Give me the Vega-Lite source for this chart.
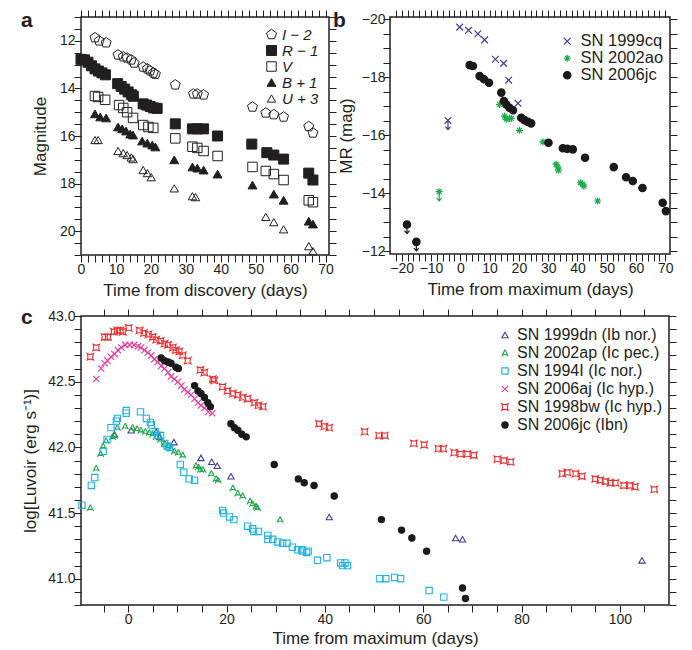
{
  "$schema": "https://vega.github.io/schema/vega-lite/v6.json",
  "background": "white",
  "padding": {"left": 20, "top": 8, "right": 5, "bottom": 2},
  "config": {
    "font": "Liberation Sans",
    "view": {"stroke": "#231f20", "strokeWidth": 1.5},
    "axis": {"domain": false, "grid": false, "labelFontSize": 14, "labelColor": "#231f20", "titleFontSize": 17, "titleFontWeight": "normal", "titleColor": "#231f20", "tickColor": "#231f20", "tickWidth": 1, "tickSize": 7, "labelFlush": false, "labelOverlap": false, "labelBound": false},
    "legend": {"padding": 0, "labelColor": "#231f20"}
  },
  "datasets": {
    "a": [
      {"band": "I − 2", "t": 4, "m": 11.87}, {"band": "I − 2", "t": 5.2, "m": 12.0}, {"band": "I − 2", "t": 7.2, "m": 12.08},
      {"band": "I − 2", "t": 10.6, "m": 12.59}, {"band": "I − 2", "t": 12.1, "m": 12.67}, {"band": "I − 2", "t": 13.2, "m": 12.72}, {"band": "I − 2", "t": 14.4, "m": 12.8}, {"band": "I − 2", "t": 15.2, "m": 12.93},
      {"band": "I − 2", "t": 17.8, "m": 13.1}, {"band": "I − 2", "t": 19, "m": 13.18}, {"band": "I − 2", "t": 19.8, "m": 13.26}, {"band": "I − 2", "t": 20.7, "m": 13.35}, {"band": "I − 2", "t": 21.3, "m": 13.4},
      {"band": "I − 2", "t": 27, "m": 13.85}, {"band": "I − 2", "t": 32.2, "m": 14.23}, {"band": "I − 2", "t": 33.3, "m": 14.23}, {"band": "I − 2", "t": 35.1, "m": 14.27},
      {"band": "I − 2", "t": 49.1, "m": 14.78}, {"band": "I − 2", "t": 52.9, "m": 15.03}, {"band": "I − 2", "t": 55.2, "m": 15.1}, {"band": "I − 2", "t": 58, "m": 15.2}, {"band": "I − 2", "t": 65.2, "m": 15.6}, {"band": "I − 2", "t": 66.4, "m": 15.87},
      {"band": "R − 1", "t": 0, "m": 12.78}, {"band": "R − 1", "t": 1, "m": 12.8}, {"band": "R − 1", "t": 2, "m": 12.9}, {"band": "R − 1", "t": 3, "m": 13.05}, {"band": "R − 1", "t": 4, "m": 13.18}, {"band": "R − 1", "t": 5, "m": 13.27}, {"band": "R − 1", "t": 6, "m": 13.35}, {"band": "R − 1", "t": 7, "m": 13.43},
      {"band": "R − 1", "t": 10.5, "m": 13.8}, {"band": "R − 1", "t": 11.5, "m": 13.92}, {"band": "R − 1", "t": 12.5, "m": 14.03}, {"band": "R − 1", "t": 13.5, "m": 14.15}, {"band": "R − 1", "t": 14.5, "m": 14.27}, {"band": "R − 1", "t": 15, "m": 14.33},
      {"band": "R − 1", "t": 17.8, "m": 14.65}, {"band": "R − 1", "t": 18.8, "m": 14.7}, {"band": "R − 1", "t": 19.8, "m": 14.76}, {"band": "R − 1", "t": 20.8, "m": 14.82}, {"band": "R − 1", "t": 21.8, "m": 14.84},
      {"band": "R − 1", "t": 27, "m": 15.49}, {"band": "R − 1", "t": 31.9, "m": 15.7}, {"band": "R − 1", "t": 33.3, "m": 15.7}, {"band": "R − 1", "t": 35.1, "m": 15.7}, {"band": "R − 1", "t": 39.1, "m": 16.0},
      {"band": "R − 1", "t": 48.9, "m": 16.34}, {"band": "R − 1", "t": 53.2, "m": 16.7}, {"band": "R − 1", "t": 55.2, "m": 16.8}, {"band": "R − 1", "t": 58, "m": 16.97}, {"band": "R − 1", "t": 65.2, "m": 17.56}, {"band": "R − 1", "t": 66.4, "m": 17.85},
      {"band": "V", "t": 4, "m": 14.32}, {"band": "V", "t": 4.9, "m": 14.36}, {"band": "V", "t": 6.9, "m": 14.48}, {"band": "V", "t": 10.9, "m": 14.7}, {"band": "V", "t": 12.1, "m": 14.82}, {"band": "V", "t": 13.2, "m": 15.0}, {"band": "V", "t": 14.9, "m": 15.24},
      {"band": "V", "t": 17.8, "m": 15.54}, {"band": "V", "t": 19.3, "m": 15.62}, {"band": "V", "t": 20.7, "m": 15.66}, {"band": "V", "t": 27, "m": 16.1}, {"band": "V", "t": 31.9, "m": 16.45}, {"band": "V", "t": 33.3, "m": 16.5}, {"band": "V", "t": 35.1, "m": 16.63}, {"band": "V", "t": 39.1, "m": 16.84},
      {"band": "V", "t": 49.1, "m": 17.3}, {"band": "V", "t": 52.9, "m": 17.47}, {"band": "V", "t": 55.2, "m": 17.6}, {"band": "V", "t": 58, "m": 17.85}, {"band": "V", "t": 65.2, "m": 18.7}, {"band": "V", "t": 66.4, "m": 18.78},
      {"band": "B + 1", "t": 4, "m": 15.07}, {"band": "B + 1", "t": 5.5, "m": 15.2}, {"band": "B + 1", "t": 7.2, "m": 15.24}, {"band": "B + 1", "t": 10.6, "m": 15.62}, {"band": "B + 1", "t": 11.8, "m": 15.7}, {"band": "B + 1", "t": 12.9, "m": 15.79}, {"band": "B + 1", "t": 14.1, "m": 15.92}, {"band": "B + 1", "t": 14.9, "m": 15.96},
      {"band": "B + 1", "t": 17.5, "m": 16.21}, {"band": "B + 1", "t": 19, "m": 16.3}, {"band": "B + 1", "t": 20.4, "m": 16.38}, {"band": "B + 1", "t": 21.3, "m": 16.46}, {"band": "B + 1", "t": 26.7, "m": 17.0}, {"band": "B + 1", "t": 31.9, "m": 17.3}, {"band": "B + 1", "t": 33.3, "m": 17.35}, {"band": "B + 1", "t": 35.1, "m": 17.43}, {"band": "B + 1", "t": 39.1, "m": 17.6},
      {"band": "B + 1", "t": 49.1, "m": 18.06}, {"band": "B + 1", "t": 55.2, "m": 18.44}, {"band": "B + 1", "t": 58, "m": 18.7}, {"band": "B + 1", "t": 65.2, "m": 19.58}, {"band": "B + 1", "t": 66.4, "m": 19.7},
      {"band": "U + 3", "t": 4, "m": 16.17}, {"band": "U + 3", "t": 4.9, "m": 16.17}, {"band": "U + 3", "t": 10.6, "m": 16.63}, {"band": "U + 3", "t": 12.1, "m": 16.72}, {"band": "U + 3", "t": 13.2, "m": 16.8}, {"band": "U + 3", "t": 14.4, "m": 16.9}, {"band": "U + 3", "t": 14.9, "m": 16.97},
      {"band": "U + 3", "t": 17.8, "m": 17.43}, {"band": "U + 3", "t": 19, "m": 17.56}, {"band": "U + 3", "t": 20.1, "m": 17.73}, {"band": "U + 3", "t": 26.7, "m": 18.2}, {"band": "U + 3", "t": 31.9, "m": 18.53}, {"band": "U + 3", "t": 32.8, "m": 18.57},
      {"band": "U + 3", "t": 52.9, "m": 19.4}, {"band": "U + 3", "t": 55.2, "m": 19.62}, {"band": "U + 3", "t": 58, "m": 19.92}, {"band": "U + 3", "t": 65.2, "m": 20.63}, {"band": "U + 3", "t": 66.4, "m": 20.84}
    ],
    "b": [
      {"sn": "SN 1999cq", "t": -0.2, "M": -19.73}, {"sn": "SN 1999cq", "t": 2.8, "M": -19.62}, {"sn": "SN 1999cq", "t": 6, "M": -19.5}, {"sn": "SN 1999cq", "t": 8.3, "M": -19.29},
      {"sn": "SN 1999cq", "t": 12, "M": -18.62}, {"sn": "SN 1999cq", "t": 14.8, "M": -18.48}, {"sn": "SN 1999cq", "t": 16.5, "M": -17.9}, {"sn": "SN 1999cq", "t": 19.7, "M": -17.1}, {"sn": "SN 1999cq", "t": -4.2, "M": -16.51},
      {"sn": "SN 2002ao", "t": 13.4, "M": -17.06}, {"sn": "SN 2002ao", "t": 15.1, "M": -16.66}, {"sn": "SN 2002ao", "t": 15.7, "M": -16.55}, {"sn": "SN 2002ao", "t": 16.8, "M": -16.58}, {"sn": "SN 2002ao", "t": 17.4, "M": -16.58},
      {"sn": "SN 2002ao", "t": 20.2, "M": -16.17}, {"sn": "SN 2002ao", "t": 28.2, "M": -15.77}, {"sn": "SN 2002ao", "t": 32.7, "M": -15.0}, {"sn": "SN 2002ao", "t": 33.3, "M": -14.9}, {"sn": "SN 2002ao", "t": 33.5, "M": -14.79},
      {"sn": "SN 2002ao", "t": 41, "M": -14.36}, {"sn": "SN 2002ao", "t": 41.8, "M": -14.3}, {"sn": "SN 2002ao", "t": 42.2, "M": -14.24}, {"sn": "SN 2002ao", "t": 46.9, "M": -13.73}, {"sn": "SN 2002ao", "t": -7.2, "M": -14.05},
      {"sn": "SN 2006jc", "t": 3.2, "M": -18.42}, {"sn": "SN 2006jc", "t": 4.3, "M": -18.39}, {"sn": "SN 2006jc", "t": 6.6, "M": -18.04}, {"sn": "SN 2006jc", "t": 8.1, "M": -17.93}, {"sn": "SN 2006jc", "t": 9.8, "M": -17.81},
      {"sn": "SN 2006jc", "t": 14, "M": -17.47}, {"sn": "SN 2006jc", "t": 14.9, "M": -17.18}, {"sn": "SN 2006jc", "t": 15.7, "M": -17.06}, {"sn": "SN 2006jc", "t": 16.8, "M": -16.95}, {"sn": "SN 2006jc", "t": 18, "M": -16.86},
      {"sn": "SN 2006jc", "t": 20.8, "M": -16.6}, {"sn": "SN 2006jc", "t": 21.9, "M": -16.52}, {"sn": "SN 2006jc", "t": 23.1, "M": -16.46}, {"sn": "SN 2006jc", "t": 24.2, "M": -16.41}, {"sn": "SN 2006jc", "t": 30.1, "M": -15.74},
      {"sn": "SN 2006jc", "t": 35, "M": -15.55}, {"sn": "SN 2006jc", "t": 36.5, "M": -15.53}, {"sn": "SN 2006jc", "t": 38.4, "M": -15.51}, {"sn": "SN 2006jc", "t": 42.6, "M": -15.22}, {"sn": "SN 2006jc", "t": 52.4, "M": -14.9},
      {"sn": "SN 2006jc", "t": 56.6, "M": -14.55}, {"sn": "SN 2006jc", "t": 58.9, "M": -14.42}, {"sn": "SN 2006jc", "t": 62.2, "M": -14.18}, {"sn": "SN 2006jc", "t": 69.1, "M": -13.67}, {"sn": "SN 2006jc", "t": 70.2, "M": -13.38},
      {"sn": "SN 2006jc", "t": -18.2, "M": -12.92}, {"sn": "SN 2006jc", "t": -15, "M": -12.32}
    ],
    "blim": [
      {"sn": "SN 1999cq", "t": -4.2, "M": -16.51}, {"sn": "SN 2002ao", "t": -7.2, "M": -14.05}, {"sn": "SN 2006jc", "t": -18.2, "M": -12.92}, {"sn": "SN 2006jc", "t": -15, "M": -12.32}
    ],
    "c": [
      {"sn": "SN 1999dn (Ib nor.)", "t": -2.8, "L": 42.10}, {"sn": "SN 1999dn (Ib nor.)", "t": 0.6, "L": 42.13}, {"sn": "SN 1999dn (Ib nor.)", "t": 5.7, "L": 42.12}, {"sn": "SN 1999dn (Ib nor.)", "t": 6.4, "L": 42.08}, {"sn": "SN 1999dn (Ib nor.)", "t": 9.3, "L": 42.04},
      {"sn": "SN 1999dn (Ib nor.)", "t": 14.8, "L": 41.92}, {"sn": "SN 1999dn (Ib nor.)", "t": 17.0, "L": 41.89}, {"sn": "SN 1999dn (Ib nor.)", "t": 18.1, "L": 41.86}, {"sn": "SN 1999dn (Ib nor.)", "t": 20.9, "L": 41.78},
      {"sn": "SN 1999dn (Ib nor.)", "t": 40.9, "L": 41.47}, {"sn": "SN 1999dn (Ib nor.)", "t": 66.6, "L": 41.31}, {"sn": "SN 1999dn (Ib nor.)", "t": 68.0, "L": 41.30}, {"sn": "SN 1999dn (Ib nor.)", "t": 104.5, "L": 41.14},
      {"sn": "SN 2002ap (Ic pec.)", "t": -7.7, "L": 41.54}, {"sn": "SN 2002ap (Ic pec.)", "t": -6.5, "L": 41.84}, {"sn": "SN 2002ap (Ic pec.)", "t": -5.6, "L": 41.95}, {"sn": "SN 2002ap (Ic pec.)", "t": -5.1, "L": 42.01}, {"sn": "SN 2002ap (Ic pec.)", "t": -4.5, "L": 42.05},
      {"sn": "SN 2002ap (Ic pec.)", "t": -3.2, "L": 42.08}, {"sn": "SN 2002ap (Ic pec.)", "t": -2.8, "L": 42.09}, {"sn": "SN 2002ap (Ic pec.)", "t": -2.2, "L": 42.15}, {"sn": "SN 2002ap (Ic pec.)", "t": -0.6, "L": 42.16}, {"sn": "SN 2002ap (Ic pec.)", "t": 0.9, "L": 42.15},
      {"sn": "SN 2002ap (Ic pec.)", "t": 1.8, "L": 42.14}, {"sn": "SN 2002ap (Ic pec.)", "t": 2.6, "L": 42.13}, {"sn": "SN 2002ap (Ic pec.)", "t": 3.5, "L": 42.12}, {"sn": "SN 2002ap (Ic pec.)", "t": 4.3, "L": 42.11}, {"sn": "SN 2002ap (Ic pec.)", "t": 5.0, "L": 42.10},
      {"sn": "SN 2002ap (Ic pec.)", "t": 5.7, "L": 42.08}, {"sn": "SN 2002ap (Ic pec.)", "t": 6.6, "L": 42.06}, {"sn": "SN 2002ap (Ic pec.)", "t": 7.4, "L": 42.03}, {"sn": "SN 2002ap (Ic pec.)", "t": 8.1, "L": 42.01}, {"sn": "SN 2002ap (Ic pec.)", "t": 8.7, "L": 41.99},
      {"sn": "SN 2002ap (Ic pec.)", "t": 9.4, "L": 41.97}, {"sn": "SN 2002ap (Ic pec.)", "t": 10.2, "L": 41.96}, {"sn": "SN 2002ap (Ic pec.)", "t": 11.1, "L": 41.94}, {"sn": "SN 2002ap (Ic pec.)", "t": 13.8, "L": 41.86}, {"sn": "SN 2002ap (Ic pec.)", "t": 14.3, "L": 41.85},
      {"sn": "SN 2002ap (Ic pec.)", "t": 14.7, "L": 41.83}, {"sn": "SN 2002ap (Ic pec.)", "t": 15.2, "L": 41.83}, {"sn": "SN 2002ap (Ic pec.)", "t": 16.9, "L": 41.80}, {"sn": "SN 2002ap (Ic pec.)", "t": 17.9, "L": 41.76}, {"sn": "SN 2002ap (Ic pec.)", "t": 18.3, "L": 41.75},
      {"sn": "SN 2002ap (Ic pec.)", "t": 21.3, "L": 41.69}, {"sn": "SN 2002ap (Ic pec.)", "t": 22.3, "L": 41.65}, {"sn": "SN 2002ap (Ic pec.)", "t": 23.3, "L": 41.63}, {"sn": "SN 2002ap (Ic pec.)", "t": 24.8, "L": 41.59}, {"sn": "SN 2002ap (Ic pec.)", "t": 25.3, "L": 41.57},
      {"sn": "SN 2002ap (Ic pec.)", "t": 26.0, "L": 41.55}, {"sn": "SN 2002ap (Ic pec.)", "t": 26.3, "L": 41.54}, {"sn": "SN 2002ap (Ic pec.)", "t": 30.9, "L": 41.45},
      {"sn": "SN 1994I (Ic nor.)", "t": -9.4, "L": 41.56}, {"sn": "SN 1994I (Ic nor.)", "t": -7.5, "L": 41.71}, {"sn": "SN 1994I (Ic nor.)", "t": -6.8, "L": 41.77}, {"sn": "SN 1994I (Ic nor.)", "t": -5.1, "L": 41.97}, {"sn": "SN 1994I (Ic nor.)", "t": -4.3, "L": 42.06},
      {"sn": "SN 1994I (Ic nor.)", "t": -3.5, "L": 42.15}, {"sn": "SN 1994I (Ic nor.)", "t": -2.4, "L": 42.20}, {"sn": "SN 1994I (Ic nor.)", "t": -2.2, "L": 42.22}, {"sn": "SN 1994I (Ic nor.)", "t": -0.4, "L": 42.28}, {"sn": "SN 1994I (Ic nor.)", "t": -0.4, "L": 42.26},
      {"sn": "SN 1994I (Ic nor.)", "t": 2.5, "L": 42.27}, {"sn": "SN 1994I (Ic nor.)", "t": 3.7, "L": 42.22}, {"sn": "SN 1994I (Ic nor.)", "t": 4.5, "L": 42.19}, {"sn": "SN 1994I (Ic nor.)", "t": 4.7, "L": 42.17}, {"sn": "SN 1994I (Ic nor.)", "t": 5.5, "L": 42.12},
      {"sn": "SN 1994I (Ic nor.)", "t": 6.0, "L": 42.09}, {"sn": "SN 1994I (Ic nor.)", "t": 6.6, "L": 42.09}, {"sn": "SN 1994I (Ic nor.)", "t": 7.4, "L": 42.03}, {"sn": "SN 1994I (Ic nor.)", "t": 7.9, "L": 42.01}, {"sn": "SN 1994I (Ic nor.)", "t": 8.4, "L": 42.00},
      {"sn": "SN 1994I (Ic nor.)", "t": 10.6, "L": 41.87}, {"sn": "SN 1994I (Ic nor.)", "t": 11.3, "L": 41.81}, {"sn": "SN 1994I (Ic nor.)", "t": 12.4, "L": 41.76}, {"sn": "SN 1994I (Ic nor.)", "t": 13.5, "L": 41.75},
      {"sn": "SN 1994I (Ic nor.)", "t": 19.2, "L": 41.52}, {"sn": "SN 1994I (Ic nor.)", "t": 19.4, "L": 41.50}, {"sn": "SN 1994I (Ic nor.)", "t": 20.6, "L": 41.47}, {"sn": "SN 1994I (Ic nor.)", "t": 21.5, "L": 41.45},
      {"sn": "SN 1994I (Ic nor.)", "t": 24.3, "L": 41.40}, {"sn": "SN 1994I (Ic nor.)", "t": 25.3, "L": 41.38}, {"sn": "SN 1994I (Ic nor.)", "t": 25.5, "L": 41.36}, {"sn": "SN 1994I (Ic nor.)", "t": 26.5, "L": 41.36},
      {"sn": "SN 1994I (Ic nor.)", "t": 28.4, "L": 41.33}, {"sn": "SN 1994I (Ic nor.)", "t": 28.4, "L": 41.30}, {"sn": "SN 1994I (Ic nor.)", "t": 29.4, "L": 41.30}, {"sn": "SN 1994I (Ic nor.)", "t": 30.4, "L": 41.28}, {"sn": "SN 1994I (Ic nor.)", "t": 31.4, "L": 41.27},
      {"sn": "SN 1994I (Ic nor.)", "t": 32.3, "L": 41.27}, {"sn": "SN 1994I (Ic nor.)", "t": 33.4, "L": 41.24}, {"sn": "SN 1994I (Ic nor.)", "t": 34.5, "L": 41.22}, {"sn": "SN 1994I (Ic nor.)", "t": 35.3, "L": 41.22}, {"sn": "SN 1994I (Ic nor.)", "t": 35.5, "L": 41.21},
      {"sn": "SN 1994I (Ic nor.)", "t": 36.3, "L": 41.20}, {"sn": "SN 1994I (Ic nor.)", "t": 36.6, "L": 41.21}, {"sn": "SN 1994I (Ic nor.)", "t": 38.5, "L": 41.14}, {"sn": "SN 1994I (Ic nor.)", "t": 40.4, "L": 41.16},
      {"sn": "SN 1994I (Ic nor.)", "t": 43.2, "L": 41.12}, {"sn": "SN 1994I (Ic nor.)", "t": 44.1, "L": 41.12}, {"sn": "SN 1994I (Ic nor.)", "t": 44.6, "L": 41.10}, {"sn": "SN 1994I (Ic nor.)", "t": 43.6, "L": 41.10},
      {"sn": "SN 1994I (Ic nor.)", "t": 51.2, "L": 41.00}, {"sn": "SN 1994I (Ic nor.)", "t": 52.4, "L": 41.00}, {"sn": "SN 1994I (Ic nor.)", "t": 54.2, "L": 41.01}, {"sn": "SN 1994I (Ic nor.)", "t": 55.4, "L": 41.00},
      {"sn": "SN 1994I (Ic nor.)", "t": 61.2, "L": 40.91}, {"sn": "SN 1994I (Ic nor.)", "t": 64.2, "L": 40.86},
      {"sn": "SN 2006aj (Ic hyp.)", "t": -6.5, "L": 42.52}, {"sn": "SN 2006aj (Ic hyp.)", "t": -5.5, "L": 42.60}, {"sn": "SN 2006aj (Ic hyp.)", "t": -4.8, "L": 42.64}, {"sn": "SN 2006aj (Ic hyp.)", "t": -4.2, "L": 42.66}, {"sn": "SN 2006aj (Ic hyp.)", "t": -3.5, "L": 42.69},
      {"sn": "SN 2006aj (Ic hyp.)", "t": -2.8, "L": 42.71}, {"sn": "SN 2006aj (Ic hyp.)", "t": -2.1, "L": 42.74}, {"sn": "SN 2006aj (Ic hyp.)", "t": -1.4, "L": 42.76}, {"sn": "SN 2006aj (Ic hyp.)", "t": -0.6, "L": 42.78}, {"sn": "SN 2006aj (Ic hyp.)", "t": 0.3, "L": 42.78},
      {"sn": "SN 2006aj (Ic hyp.)", "t": 1.2, "L": 42.78}, {"sn": "SN 2006aj (Ic hyp.)", "t": 2.0, "L": 42.77}, {"sn": "SN 2006aj (Ic hyp.)", "t": 2.6, "L": 42.76}, {"sn": "SN 2006aj (Ic hyp.)", "t": 3.3, "L": 42.74}, {"sn": "SN 2006aj (Ic hyp.)", "t": 4.0, "L": 42.72},
      {"sn": "SN 2006aj (Ic hyp.)", "t": 4.7, "L": 42.70}, {"sn": "SN 2006aj (Ic hyp.)", "t": 5.3, "L": 42.67}, {"sn": "SN 2006aj (Ic hyp.)", "t": 6.0, "L": 42.65}, {"sn": "SN 2006aj (Ic hyp.)", "t": 6.7, "L": 42.62}, {"sn": "SN 2006aj (Ic hyp.)", "t": 7.4, "L": 42.60},
      {"sn": "SN 2006aj (Ic hyp.)", "t": 8.1, "L": 42.57}, {"sn": "SN 2006aj (Ic hyp.)", "t": 8.7, "L": 42.54}, {"sn": "SN 2006aj (Ic hyp.)", "t": 9.4, "L": 42.52}, {"sn": "SN 2006aj (Ic hyp.)", "t": 10.1, "L": 42.50}, {"sn": "SN 2006aj (Ic hyp.)", "t": 10.8, "L": 42.47},
      {"sn": "SN 2006aj (Ic hyp.)", "t": 11.4, "L": 42.44}, {"sn": "SN 2006aj (Ic hyp.)", "t": 12.1, "L": 42.42}, {"sn": "SN 2006aj (Ic hyp.)", "t": 12.8, "L": 42.40}, {"sn": "SN 2006aj (Ic hyp.)", "t": 13.5, "L": 42.37}, {"sn": "SN 2006aj (Ic hyp.)", "t": 14.2, "L": 42.34},
      {"sn": "SN 2006aj (Ic hyp.)", "t": 14.8, "L": 42.32}, {"sn": "SN 2006aj (Ic hyp.)", "t": 15.5, "L": 42.30}, {"sn": "SN 2006aj (Ic hyp.)", "t": 16.3, "L": 42.27}, {"sn": "SN 2006aj (Ic hyp.)", "t": 17.1, "L": 42.26},
      {"sn": "SN 1998bw (Ic hyp.)", "t": -7.7, "L": 42.69}, {"sn": "SN 1998bw (Ic hyp.)", "t": -6.5, "L": 42.76}, {"sn": "SN 1998bw (Ic hyp.)", "t": -4.8, "L": 42.84}, {"sn": "SN 1998bw (Ic hyp.)", "t": -4.1, "L": 42.84}, {"sn": "SN 1998bw (Ic hyp.)", "t": -2.9, "L": 42.88},
      {"sn": "SN 1998bw (Ic hyp.)", "t": -2.2, "L": 42.89}, {"sn": "SN 1998bw (Ic hyp.)", "t": -1.6, "L": 42.89}, {"sn": "SN 1998bw (Ic hyp.)", "t": -1.1, "L": 42.88}, {"sn": "SN 1998bw (Ic hyp.)", "t": 0.1, "L": 42.91}, {"sn": "SN 1998bw (Ic hyp.)", "t": 2.3, "L": 42.89},
      {"sn": "SN 1998bw (Ic hyp.)", "t": 3.2, "L": 42.87}, {"sn": "SN 1998bw (Ic hyp.)", "t": 4.1, "L": 42.86}, {"sn": "SN 1998bw (Ic hyp.)", "t": 5.0, "L": 42.84}, {"sn": "SN 1998bw (Ic hyp.)", "t": 5.7, "L": 42.82}, {"sn": "SN 1998bw (Ic hyp.)", "t": 6.6, "L": 42.81},
      {"sn": "SN 1998bw (Ic hyp.)", "t": 7.4, "L": 42.79}, {"sn": "SN 1998bw (Ic hyp.)", "t": 8.1, "L": 42.78}, {"sn": "SN 1998bw (Ic hyp.)", "t": 9.1, "L": 42.76}, {"sn": "SN 1998bw (Ic hyp.)", "t": 9.7, "L": 42.74}, {"sn": "SN 1998bw (Ic hyp.)", "t": 10.4, "L": 42.73},
      {"sn": "SN 1998bw (Ic hyp.)", "t": 11.1, "L": 42.70}, {"sn": "SN 1998bw (Ic hyp.)", "t": 12.1, "L": 42.66}, {"sn": "SN 1998bw (Ic hyp.)", "t": 14.7, "L": 42.59}, {"sn": "SN 1998bw (Ic hyp.)", "t": 15.5, "L": 42.57}, {"sn": "SN 1998bw (Ic hyp.)", "t": 17.2, "L": 42.52},
      {"sn": "SN 1998bw (Ic hyp.)", "t": 17.5, "L": 42.51}, {"sn": "SN 1998bw (Ic hyp.)", "t": 19.2, "L": 42.46}, {"sn": "SN 1998bw (Ic hyp.)", "t": 20.2, "L": 42.43}, {"sn": "SN 1998bw (Ic hyp.)", "t": 21.3, "L": 42.41}, {"sn": "SN 1998bw (Ic hyp.)", "t": 22.3, "L": 42.40},
      {"sn": "SN 1998bw (Ic hyp.)", "t": 23.3, "L": 42.38}, {"sn": "SN 1998bw (Ic hyp.)", "t": 24.3, "L": 42.37}, {"sn": "SN 1998bw (Ic hyp.)", "t": 25.7, "L": 42.34}, {"sn": "SN 1998bw (Ic hyp.)", "t": 26.5, "L": 42.32}, {"sn": "SN 1998bw (Ic hyp.)", "t": 27.4, "L": 42.31},
      {"sn": "SN 1998bw (Ic hyp.)", "t": 38.8, "L": 42.18}, {"sn": "SN 1998bw (Ic hyp.)", "t": 39.9, "L": 42.16}, {"sn": "SN 1998bw (Ic hyp.)", "t": 40.9, "L": 42.15}, {"sn": "SN 1998bw (Ic hyp.)", "t": 48.1, "L": 42.12}, {"sn": "SN 1998bw (Ic hyp.)", "t": 51.0, "L": 42.09},
      {"sn": "SN 1998bw (Ic hyp.)", "t": 52.2, "L": 42.09}, {"sn": "SN 1998bw (Ic hyp.)", "t": 58.1, "L": 42.03}, {"sn": "SN 1998bw (Ic hyp.)", "t": 60.2, "L": 42.02}, {"sn": "SN 1998bw (Ic hyp.)", "t": 63.1, "L": 41.99}, {"sn": "SN 1998bw (Ic hyp.)", "t": 64.1, "L": 41.99},
      {"sn": "SN 1998bw (Ic hyp.)", "t": 66.3, "L": 41.96}, {"sn": "SN 1998bw (Ic hyp.)", "t": 67.6, "L": 41.95}, {"sn": "SN 1998bw (Ic hyp.)", "t": 69.0, "L": 41.95}, {"sn": "SN 1998bw (Ic hyp.)", "t": 70.3, "L": 41.94},
      {"sn": "SN 1998bw (Ic hyp.)", "t": 75.1, "L": 41.91}, {"sn": "SN 1998bw (Ic hyp.)", "t": 76.4, "L": 41.90}, {"sn": "SN 1998bw (Ic hyp.)", "t": 77.8, "L": 41.89},
      {"sn": "SN 1998bw (Ic hyp.)", "t": 88.3, "L": 41.80}, {"sn": "SN 1998bw (Ic hyp.)", "t": 89.3, "L": 41.81}, {"sn": "SN 1998bw (Ic hyp.)", "t": 91.0, "L": 41.80}, {"sn": "SN 1998bw (Ic hyp.)", "t": 92.3, "L": 41.78}, {"sn": "SN 1998bw (Ic hyp.)", "t": 95.0, "L": 41.76},
      {"sn": "SN 1998bw (Ic hyp.)", "t": 96.0, "L": 41.75}, {"sn": "SN 1998bw (Ic hyp.)", "t": 97.1, "L": 41.74}, {"sn": "SN 1998bw (Ic hyp.)", "t": 98.1, "L": 41.73}, {"sn": "SN 1998bw (Ic hyp.)", "t": 99.1, "L": 41.73}, {"sn": "SN 1998bw (Ic hyp.)", "t": 100.8, "L": 41.71},
      {"sn": "SN 1998bw (Ic hyp.)", "t": 102.1, "L": 41.71}, {"sn": "SN 1998bw (Ic hyp.)", "t": 103.1, "L": 41.70}, {"sn": "SN 1998bw (Ic hyp.)", "t": 107.0, "L": 41.68},
      {"sn": "SN 2006jc (Ibn)", "t": 6.7, "L": 42.68}, {"sn": "SN 2006jc (Ibn)", "t": 7.4, "L": 42.66}, {"sn": "SN 2006jc (Ibn)", "t": 8.1, "L": 42.65}, {"sn": "SN 2006jc (Ibn)", "t": 8.7, "L": 42.64}, {"sn": "SN 2006jc (Ibn)", "t": 9.7, "L": 42.61},
      {"sn": "SN 2006jc (Ibn)", "t": 10.2, "L": 42.60}, {"sn": "SN 2006jc (Ibn)", "t": 13.5, "L": 42.47}, {"sn": "SN 2006jc (Ibn)", "t": 14.2, "L": 42.43}, {"sn": "SN 2006jc (Ibn)", "t": 14.8, "L": 42.41}, {"sn": "SN 2006jc (Ibn)", "t": 15.5, "L": 42.38},
      {"sn": "SN 2006jc (Ibn)", "t": 16.2, "L": 42.34}, {"sn": "SN 2006jc (Ibn)", "t": 16.7, "L": 42.31}, {"sn": "SN 2006jc (Ibn)", "t": 20.9, "L": 42.18}, {"sn": "SN 2006jc (Ibn)", "t": 21.6, "L": 42.15}, {"sn": "SN 2006jc (Ibn)", "t": 22.3, "L": 42.13},
      {"sn": "SN 2006jc (Ibn)", "t": 23.1, "L": 42.10}, {"sn": "SN 2006jc (Ibn)", "t": 24.0, "L": 42.08}, {"sn": "SN 2006jc (Ibn)", "t": 29.7, "L": 41.87}, {"sn": "SN 2006jc (Ibn)", "t": 34.6, "L": 41.76}, {"sn": "SN 2006jc (Ibn)", "t": 35.8, "L": 41.73},
      {"sn": "SN 2006jc (Ibn)", "t": 37.8, "L": 41.71}, {"sn": "SN 2006jc (Ibn)", "t": 41.9, "L": 41.63}, {"sn": "SN 2006jc (Ibn)", "t": 51.5, "L": 41.45}, {"sn": "SN 2006jc (Ibn)", "t": 55.6, "L": 41.37}, {"sn": "SN 2006jc (Ibn)", "t": 57.7, "L": 41.31},
      {"sn": "SN 2006jc (Ibn)", "t": 60.7, "L": 41.21}, {"sn": "SN 2006jc (Ibn)", "t": 68.0, "L": 40.93}, {"sn": "SN 2006jc (Ibn)", "t": 68.6, "L": 40.85}
    ]
  },
  "spacing": 6,
  "resolve": {"scale": {"shape": "independent", "fill": "independent", "stroke": "independent", "size": "independent"}},
  "vconcat": [
    {
      "bounds": "flush",
      "spacing": 61,
      "resolve": {"scale": {"shape": "independent", "fill": "independent", "stroke": "independent", "size": "independent"}},
      "hconcat": [
        {
          "width": 248, "height": 238,
          "title": {"text": "a", "anchor": "start", "frame": "group", "fontSize": 21, "fontWeight": "bold", "baseline": "alphabetic", "dx": -60, "dy": 38, "offset": 0, "color": "#231f20"},
          "data": {"name": "a"},
          "resolve": {"axis": {"x": "independent", "y": "independent"}},
          "layer": [
            {
              "mark": {"type": "point", "stroke": "#231f20", "strokeWidth": 1, "opacity": 1},
              "encoding": {
                "x": {"field": "t", "type": "quantitative", "scale": {"domain": [0, 71], "nice": false, "zero": false},
                  "axis": {"orient": "bottom", "values": [0,2,4,6,8,10,12,14,16,18,20,22,24,26,28,30,32,34,36,38,40,42,44,46,48,50,52,54,56,58,60,62,64,66,68,70], "labelExpr": "datum.value % 10 === 0 ? datum.label : ''", "labelPadding": 0, "title": "Time from discovery (days)", "titlePadding": 6,
                    "encode": {"ticks": {"update": {"y2": {"signal": "datum.value % 10 === 0 ? -7 : -4"}}}}}},
                "y": {"field": "m", "type": "quantitative", "scale": {"domain": [11, 21], "reverse": true, "nice": false, "zero": false},
                  "axis": {"orient": "left", "format": ".0f", "values": [11,11.5,12,12.5,13,13.5,14,14.5,15,15.5,16,16.5,17,17.5,18,18.5,19,19.5,20,20.5,21], "labelExpr": "datum.value % 2 === 0 ? datum.label : ''", "labelPadding": -1, "title": "Magnitude", "titlePadding": 10,
                    "encode": {"ticks": {"update": {"x2": {"signal": "datum.value % 2 === 0 ? 7 : 4"}}}}}},
                "shape": {"field": "band", "type": "nominal", "scale": {"domain": ["I − 2", "R − 1", "V", "B + 1", "U + 3"], "range": ["M0,-1L0.951,-0.309L0.588,0.809L-0.588,0.809L-0.951,-0.309Z", "square", "square", "triangle-up", "triangle-up"]},
                  "legend": {"title": null, "orient": "none", "legendX": 183, "legendY": 10, "labelFontSize": 15, "labelFontStyle": "italic", "rowPadding": -3, "labelOffset": 3, "symbolStrokeWidth": 1}},
                "fill": {"field": "band", "type": "nominal", "scale": {"domain": ["I − 2", "R − 1", "V", "B + 1", "U + 3"], "range": ["transparent", "#231f20", "transparent", "#231f20", "transparent"]}, "legend": {"title": null}},
                "size": {"field": "band", "type": "nominal", "scale": {"domain": ["I − 2", "R − 1", "V", "B + 1", "U + 3"], "range": [110, 70, 40, 80, 80]}, "legend": {"title": null}}
              }
            },
            {
              "mark": {"type": "point", "opacity": 0},
              "encoding": {
                "x": {"field": "t", "type": "quantitative", "scale": {"domain": [0, 71], "nice": false, "zero": false},
                  "axis": {"orient": "top", "values": [0,2,4,6,8,10,12,14,16,18,20,22,24,26,28,30,32,34,36,38,40,42,44,46,48,50,52,54,56,58,60,62,64,66,68,70], "labels": false, "title": null,
                    "encode": {"ticks": {"update": {"y2": {"signal": "datum.value % 10 === 0 ? 7 : 4"}}}}}},
                "y": {"field": "m", "type": "quantitative", "scale": {"domain": [11, 21], "reverse": true, "nice": false, "zero": false},
                  "axis": {"orient": "right", "values": [11,11.5,12,12.5,13,13.5,14,14.5,15,15.5,16,16.5,17,17.5,18,18.5,19,19.5,20,20.5,21], "labels": false, "title": null,
                    "encode": {"ticks": {"update": {"x2": {"signal": "datum.value % 2 === 0 ? -7 : -4"}}}}}}
              }
            }
          ]
        },
        {
          "width": 280, "height": 237,
          "title": {"text": "b", "anchor": "start", "frame": "group", "fontSize": 21, "fontWeight": "bold", "baseline": "alphabetic", "dx": -57, "dy": 38, "offset": 0, "color": "#231f20"},
          "resolve": {"axis": {"x": "independent", "y": "independent"}},
          "layer": [
            {
              "data": {"name": "b"},
              "mark": {"type": "point", "strokeWidth": 1.2, "opacity": 1},
              "encoding": {
                "x": {"field": "t", "type": "quantitative", "scale": {"domain": [-24, 71.6], "nice": false, "zero": false},
                  "axis": {"orient": "bottom", "values": [-22,-20,-18,-16,-14,-12,-10,-8,-6,-4,-2,0,2,4,6,8,10,12,14,16,18,20,22,24,26,28,30,32,34,36,38,40,42,44,46,48,50,52,54,56,58,60,62,64,66,68,70], "labelExpr": "datum.value % 10 === 0 ? datum.label : ''", "labelPadding": 0, "title": "Time from maximum (days)", "titlePadding": 6,
                    "encode": {"ticks": {"update": {"y2": {"signal": "datum.value % 10 === 0 ? -7 : -4"}}}}}},
                "y": {"field": "M", "type": "quantitative", "scale": {"domain": [-20.08, -11.9], "reverse": true, "nice": false, "zero": false},
                  "axis": {"orient": "left", "format": ".0f", "values": [-20,-19.5,-19,-18.5,-18,-17.5,-17,-16.5,-16,-15.5,-15,-14.5,-14,-13.5,-13,-12.5,-12], "labelExpr": "datum.value % 2 === 0 ? datum.label : ''", "labelPadding": -2, "title": "MR (mag)", "titlePadding": 6,
                    "encode": {"ticks": {"update": {"x2": {"signal": "datum.value % 2 === 0 ? 7 : 4"}}}}}},
                "shape": {"field": "sn", "type": "nominal", "scale": {"domain": ["SN 1999cq", "SN 2002ao", "SN 2006jc"], "range": ["M-1,-1L1,1M-1,1L1,-1", "M-1,0L1,0M0,-1L0,1M-0.7,-0.7L0.7,0.7M-0.7,0.7L0.7,-0.7", "circle"]},
                  "legend": {"title": null, "orient": "none", "legendX": 169, "legendY": 16, "labelFontSize": 16.5, "rowPadding": -6.5, "labelOffset": 5, "symbolStrokeWidth": 1.2,
                    "encode": {"labels": {"update": {"fill": {"signal": "datum.label === 'SN 1999cq' ? '#3d3f98' : datum.label === 'SN 2002ao' ? '#1eab4c' : '#231f20'"}}}}}},
                "stroke": {"field": "sn", "type": "nominal", "scale": {"domain": ["SN 1999cq", "SN 2002ao", "SN 2006jc"], "range": ["#3d3f98", "#1eab4c", "#1a1a1a"]}, "legend": {"title": null}},
                "fill": {"field": "sn", "type": "nominal", "scale": {"domain": ["SN 1999cq", "SN 2002ao", "SN 2006jc"], "range": ["transparent", "transparent", "#1a1a1a"]}, "legend": {"title": null}},
                "size": {"field": "sn", "type": "nominal", "scale": {"domain": ["SN 1999cq", "SN 2002ao", "SN 2006jc"], "range": [45, 55, 100]}, "legend": {"title": null}}
              }
            },
            {
              "data": {"name": "blim"},
              "mark": {"type": "point", "shape": "M0,0L0,2.6M-0.7,1.8L0,2.6L0.7,1.8", "size": 49, "strokeWidth": 1.2, "fill": "transparent", "opacity": 1},
              "encoding": {
                "x": {"field": "t", "type": "quantitative", "scale": {"domain": [-24, 71.6], "nice": false, "zero": false},
                  "axis": {"orient": "top", "values": [-22,-20,-18,-16,-14,-12,-10,-8,-6,-4,-2,0,2,4,6,8,10,12,14,16,18,20,22,24,26,28,30,32,34,36,38,40,42,44,46,48,50,52,54,56,58,60,62,64,66,68,70], "labels": false, "title": null,
                    "encode": {"ticks": {"update": {"y2": {"signal": "datum.value % 10 === 0 ? 7 : 4"}}}}}},
                "y": {"field": "M", "type": "quantitative", "scale": {"domain": [-20.08, -11.9], "reverse": true, "nice": false, "zero": false},
                  "axis": {"orient": "right", "values": [-20,-19.5,-19,-18.5,-18,-17.5,-17,-16.5,-16,-15.5,-15,-14.5,-14,-13.5,-13,-12.5,-12], "labels": false, "title": null,
                    "encode": {"ticks": {"update": {"x2": {"signal": "datum.value % 2 === 0 ? -7 : -4"}}}}}},
                "stroke": {"field": "sn", "type": "nominal", "scale": {"domain": ["SN 1999cq", "SN 2002ao", "SN 2006jc"], "range": ["#3d3f98", "#1eab4c", "#1a1a1a"]}, "legend": null}
              }
            }
          ]
        }
      ]
    },
    {
      "width": 588, "height": 289,
      "title": {"text": "c", "anchor": "start", "frame": "group", "fontSize": 21, "fontWeight": "bold", "baseline": "alphabetic", "dx": -60, "dy": 36, "offset": 0, "color": "#231f20"},
      "data": {"name": "c"},
      "resolve": {"axis": {"x": "independent", "y": "independent"}},
      "layer": [
        {
          "mark": {"type": "point", "strokeWidth": 1.1, "opacity": 1},
          "encoding": {
            "x": {"field": "t", "type": "quantitative", "scale": {"domain": [-9.6, 110], "nice": false, "zero": false},
              "axis": {"orient": "bottom", "values": [-5,0,5,10,15,20,25,30,35,40,45,50,55,60,65,70,75,80,85,90,95,100,105], "labelExpr": "datum.value % 20 === 0 ? datum.label : ''", "labelPadding": 0, "title": "Time from maximum (days)", "titlePadding": 4,
                "encode": {"ticks": {"update": {"y2": {"signal": "datum.value % 20 === 0 ? -7 : -4"}}}}}},
            "y": {"field": "L", "type": "quantitative", "scale": {"domain": [40.8, 43.0], "nice": false, "zero": false},
              "axis": {"orient": "left", "format": ".1f", "values": [40.8,40.9,41.0,41.1,41.2,41.3,41.4,41.5,41.6,41.7,41.8,41.9,42.0,42.1,42.2,42.3,42.4,42.5,42.6,42.7,42.8,42.9,43.0], "labelExpr": "abs(datum.value*2 - round(datum.value*2)) < 0.01 ? datum.label : ''", "labelPadding": -1, "title": "log[Luvoir (erg s⁻¹)]", "titlePadding": 8,
                "encode": {"ticks": {"update": {"x2": {"signal": "abs(datum.value*2 - round(datum.value*2)) < 0.01 ? 7 : 4"}}}}}},
            "shape": {"field": "sn", "type": "nominal", "scale": {"domain": ["SN 1999dn (Ib nor.)", "SN 2002ap (Ic pec.)", "SN 1994I (Ic nor.)", "SN 2006aj (Ic hyp.)", "SN 1998bw (Ic hyp.)", "SN 2006jc (Ibn)"], "range": ["triangle-up", "M0,-1L-1,1M0,-1L1,1M-0.75,0.5L0.75,0.5", "square", "M-1,-1L1,1M-1,1L1,-1", "M-1,-1Q0,-0.5,1,-1Q0.5,0,1,1Q0,0.5,-1,1Q-0.5,0,-1,-1Z", "circle"]},
              "legend": {"title": null, "orient": "none", "legendX": 416, "legendY": 11, "labelFontSize": 16, "rowPadding": 2, "labelOffset": 4, "symbolStrokeWidth": 1.1,
                "encode": {"labels": {"update": {"fill": {"signal": "datum.label === 'SN 1999dn (Ib nor.)' ? '#3d3f98' : datum.label === 'SN 2002ap (Ic pec.)' ? '#1ea64a' : datum.label === 'SN 1994I (Ic nor.)' ? '#1cb3e6' : datum.label === 'SN 2006aj (Ic hyp.)' ? '#e8379b' : datum.label === 'SN 1998bw (Ic hyp.)' ? '#ea3131' : '#231f20'"}}}}}},
            "stroke": {"field": "sn", "type": "nominal", "scale": {"domain": ["SN 1999dn (Ib nor.)", "SN 2002ap (Ic pec.)", "SN 1994I (Ic nor.)", "SN 2006aj (Ic hyp.)", "SN 1998bw (Ic hyp.)", "SN 2006jc (Ibn)"], "range": ["#3d3f98", "#1ea64a", "#1cb3e6", "#e8379b", "#ea3131", "#1a1a1a"]}, "legend": {"title": null}},
            "fill": {"field": "sn", "type": "nominal", "scale": {"domain": ["SN 1999dn (Ib nor.)", "SN 2002ap (Ic pec.)", "SN 1994I (Ic nor.)", "SN 2006aj (Ic hyp.)", "SN 1998bw (Ic hyp.)", "SN 2006jc (Ibn)"], "range": ["transparent", "transparent", "transparent", "transparent", "transparent", "#1a1a1a"]}, "legend": {"title": null}},
            "size": {"field": "sn", "type": "nominal", "scale": {"domain": ["SN 1999dn (Ib nor.)", "SN 2002ap (Ic pec.)", "SN 1994I (Ic nor.)", "SN 2006aj (Ic hyp.)", "SN 1998bw (Ic hyp.)", "SN 2006jc (Ibn)"], "range": [40, 40, 28, 30, 38, 185]}, "legend": {"title": null}}
          }
        },
        {
          "mark": {"type": "point", "opacity": 0},
          "encoding": {
            "x": {"field": "t", "type": "quantitative", "scale": {"domain": [-9.6, 110], "nice": false, "zero": false},
              "axis": {"orient": "top", "values": [-5,0,5,10,15,20,25,30,35,40,45,50,55,60,65,70,75,80,85,90,95,100,105], "labels": false, "title": null,
                "encode": {"ticks": {"update": {"y2": {"signal": "datum.value % 20 === 0 ? 7 : 4"}}}}}},
            "y": {"field": "L", "type": "quantitative", "scale": {"domain": [40.8, 43.0], "nice": false, "zero": false},
              "axis": {"orient": "right", "values": [40.8,40.9,41.0,41.1,41.2,41.3,41.4,41.5,41.6,41.7,41.8,41.9,42.0,42.1,42.2,42.3,42.4,42.5,42.6,42.7,42.8,42.9,43.0], "labels": false, "title": null,
                "encode": {"ticks": {"update": {"x2": {"signal": "abs(datum.value*2 - round(datum.value*2)) < 0.01 ? -7 : -4"}}}}}}
          }
        }
      ]
    }
  ]
}
